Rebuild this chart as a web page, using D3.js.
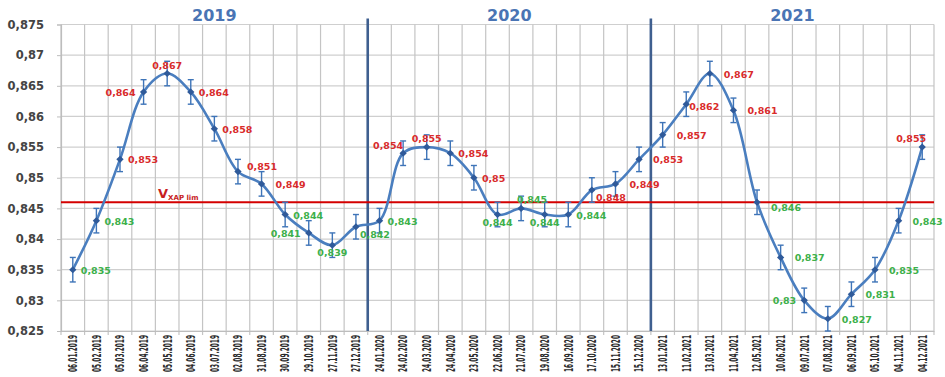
<!DOCTYPE html>
<html><head><meta charset="utf-8">
<script src="https://cdn.jsdelivr.net/npm/d3@7"></script>
<style>
html,body{margin:0;padding:0;background:#fff;}
svg{display:block;}
</style></head>
<body>
<svg id="chart" width="945" height="377"></svg>
<script>
const categories = [
 "06.01.2019","05.02.2019","05.03.2019","06.04.2019","05.05.2019","04.06.2019","03.07.2019","02.08.2019","31.08.2019","30.09.2019","29.10.2019","27.11.2019","27.12.2019",
 "24.01.2020","24.02.2020","24.03.2020","24.04.2020","23.05.2020","22.06.2020","21.07.2020","19.08.2020","16.09.2020","17.10.2020","15.11.2020","15.12.2020",
 "13.01.2021","11.02.2021","13.03.2021","11.04.2021","12.05.2021","10.06.2021","09.07.2021","07.08.2021","06.09.2021","05.10.2021","04.11.2021","04.12.2021"
];
const values = [
 0.835,0.843,0.853,0.864,0.867,0.864,0.858,0.851,0.849,0.844,0.841,0.839,0.842,
 0.843,0.854,0.855,0.854,0.850,0.844,0.845,0.844,0.844,0.848,0.849,0.853,
 0.857,0.862,0.867,0.861,0.846,0.837,0.830,0.827,0.831,0.835,0.843,0.855
];
const labelPlacement = [
 "r","r","r","l","t","r","r","rt","R","r","l","b","rb",
 "r","lt","t","r","r","b","tr","b","r","rb","R","R",
 "R","rs","R","R","Rb","R","l","R","R","R","R","tl"
];
const errorMargin = 0.002;
const limitValue = 0.846;
const limitLabel = "V";
const limitSub = "XAP lim";
const years = ["2019","2020","2021"];
const yearStartIndex = [0,13,25];
const yTicks = [0.825,0.83,0.835,0.84,0.845,0.85,0.855,0.86,0.865,0.87,0.875];

const svg = d3.select("#chart");
const m = {left:61, right:11, top:24.5, bottom:46};
const W = 945, H = 377;
const x = d3.scaleBand().domain(categories).range([m.left, W - m.right]).padding(0);
const y = d3.scaleLinear().domain([0.825,0.875]).range([H - m.bottom, m.top]);
const fmt = v => String(+v.toFixed(3)).replace(".", ",");

// horizontal grid
svg.append("g").selectAll("line").data(yTicks).join("line")
  .attr("x1", m.left).attr("x2", W - m.right)
  .attr("y1", d => y(d)).attr("y2", d => y(d))
  .attr("stroke", "#cfcfcf").attr("stroke-width", 1.2);
// vertical grid (band boundaries)
const bounds = categories.map(c => x(c)).concat([x(categories[categories.length-1]) + x.bandwidth()]);
svg.append("g").selectAll("line").data(bounds).join("line")
  .attr("x1", d => d).attr("x2", d => d)
  .attr("y1", m.top).attr("y2", H - m.bottom + 4)
  .attr("stroke", "#c4c4c4").attr("stroke-width", 1.2);

// y axis
const yAxis = d3.axisLeft(y).tickValues(yTicks).tickSize(4).tickPadding(13).tickFormat(fmt);
const gy = svg.append("g").attr("transform", `translate(${m.left},0)`).call(yAxis);
gy.select(".domain").attr("stroke", "#bdbdbd").attr("stroke-width", 1.2);
gy.selectAll(".tick line").attr("stroke", "#bdbdbd");
gy.selectAll(".tick text").attr("font-family", "DejaVu Sans, sans-serif")
  .attr("font-size", 11.5).attr("font-weight", "bold").attr("fill", "#444");

// x axis
const xAxis = d3.axisBottom(x).tickSize(0).tickPadding(0);
const gx = svg.append("g").attr("transform", `translate(0,${H - m.bottom})`).call(xAxis);
gx.select(".domain").attr("stroke", "#bdbdbd").attr("stroke-width", 1.2);
gx.selectAll(".tick text")
  .attr("font-family", "Liberation Sans Narrow, DejaVu Sans Condensed, sans-serif")
  .attr("font-size", 12).attr("font-weight", "bold").attr("fill", "#2a2a2a")
  .attr("text-anchor", "end")
  .attr("transform", "rotate(-90)")
  .attr("x", -4).attr("y", 0).attr("dy", "0.36em")
  .attr("textLength", 37).attr("lengthAdjust", "spacingAndGlyphs");

// year dividers
const dividers = yearStartIndex.slice(1).map(i => x(categories[i]));
svg.append("g").selectAll("line").data(dividers).join("line")
  .attr("x1", d => d).attr("x2", d => d)
  .attr("y1", m.top - 6).attr("y2", H - m.bottom)
  .attr("stroke", "#3f5f8f").attr("stroke-width", 2.6);

// year titles
const yearEnds = yearStartIndex.slice(1).map(i => x(categories[i])).concat([W - m.right]);
svg.append("g").selectAll("text").data(years).join("text")
  .attr("x", (d,i) => (x(categories[yearStartIndex[i]]) + yearEnds[i]) / 2)
  .attr("y", 21)
  .attr("text-anchor", "middle")
  .attr("font-family", "DejaVu Sans, sans-serif").attr("font-weight", "bold")
  .attr("font-size", 16).attr("fill", "#4a74b4")
  .text(d => d);

// limit line
svg.append("line")
  .attr("x1", m.left).attr("x2", W - m.right)
  .attr("y1", y(limitValue)).attr("y2", y(limitValue))
  .attr("stroke", "#d40000").attr("stroke-width", 2);
const lt = svg.append("text")
  .attr("x", 158).attr("y", y(limitValue) - 4)
  .attr("font-family", "DejaVu Sans, sans-serif").attr("font-weight", "bold")
  .attr("fill", "#c81e1e");
lt.append("tspan").attr("font-size", 13).text(limitLabel);
lt.append("tspan").attr("font-size", 7).attr("dy", 2).text(limitSub);

const cx = i => x(categories[i]) + x.bandwidth() / 2;

// error bars
const eb = svg.append("g").attr("stroke", "#3e74b8").attr("stroke-width", 1.4);
values.forEach((v, i) => {
  const X = cx(i);
  eb.append("line").attr("x1", X).attr("x2", X).attr("y1", y(v + errorMargin)).attr("y2", y(v - errorMargin));
  eb.append("line").attr("x1", X - 3).attr("x2", X + 3).attr("y1", y(v + errorMargin)).attr("y2", y(v + errorMargin));
  eb.append("line").attr("x1", X - 3).attr("x2", X + 3).attr("y1", y(v - errorMargin)).attr("y2", y(v - errorMargin));
});

// line
const line = d3.line().x((d, i) => cx(i)).y(d => y(d)).curve(d3.curveCatmullRom.alpha(0.5));
svg.append("path").datum(values).attr("d", line)
  .attr("fill", "none").attr("stroke", "#4a7ebf").attr("stroke-width", 2.6);

// markers
svg.append("g").selectAll("path").data(values).join("path")
  .attr("transform", (d, i) => `translate(${cx(i)},${y(d)}) scale(1.6,0.9)`)
  .attr("d", d3.symbol(d3.symbolDiamond, 18))
  .attr("fill", "#2f5a9a");

// data labels
const off = {
  r:  {dx: 8,  dy: 4,  a: "start"},
  R:  {dx: 14, dy: 4,  a: "start"},
  Rb: {dx: 14, dy: 9,  a: "start"},
  rs: {dx: 3,  dy: 6,  a: "start"},
  l:  {dx: -8, dy: 4,  a: "end"},
  t:  {dx: 0,  dy: -5, a: "middle"},
  b:  {dx: 0,  dy: 11, a: "middle"},
  rb: {dx: 4,  dy: 11, a: "start"},
  rt: {dx: 9,  dy: -2, a: "start"},
  lt: {dx: 0,  dy: -4, a: "end"},
  tr: {dx: -4, dy: -5, a: "start"},
  tl: {dx: 4,  dy: -5, a: "end"}
};
svg.append("g").selectAll("text").data(values).join("text")
  .attr("x", (d, i) => cx(i) + off[labelPlacement[i]].dx)
  .attr("y", (d, i) => y(d) + off[labelPlacement[i]].dy)
  .attr("text-anchor", (d, i) => off[labelPlacement[i]].a)
  .attr("font-family", "DejaVu Sans, sans-serif").attr("font-weight", "bold")
  .attr("font-size", 9.5)
  .attr("fill", d => d > limitValue ? "#d92b2b" : "#3db04a")
  .text(d => fmt(d));
</script>
</body></html>
